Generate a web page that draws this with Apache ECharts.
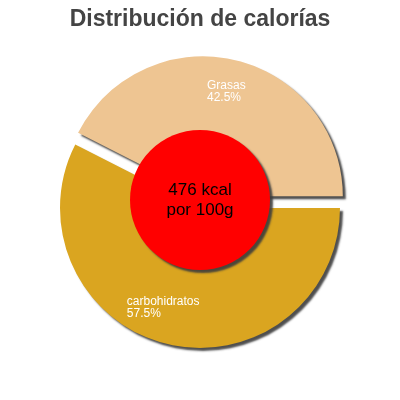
<!DOCTYPE html>
<html><head><meta charset="utf-8">
<script src="https://cdn.jsdelivr.net/npm/echarts@6/dist/echarts.min.js"></script>
<style>html,body{margin:0;background:#fff}#c{width:400px;height:400px}</style>
</head><body><div id="c"></div>
<script>
const categories = ['Grasas', 'carbohidratos'];
const values = [42.5, 57.5];
const colors = ['#EEC592', '#DAA520'];
const centerText = '476 kcal\npor 100g';
const title = 'Distribución de calorías';

const chart = echarts.init(document.getElementById('c'));
const widths = [42, 90];
const offsets = [[-1, 0], [-3, -5]];
chart.setOption({
  animation: false,
  title: { text: title, left: 'center', top: 3,
    textStyle: { fontFamily: 'Liberation Sans', fontSize: 23, fontWeight: 'bold', color: '#444' } },
  series: [{
    type: 'pie', center: [200, 208], radius: [0, 140], startAngle: 153, z: 1,
    selectedMode: 'single', selectedOffset: 12,
    itemStyle: { shadowColor: 'rgba(60,60,60,0.9)', shadowOffsetX: 3, shadowOffsetY: 3, shadowBlur: 2 },
    label: { show: false },
    data: categories.map((c, i) => ({ name: c, value: values[i], selected: i === 0, itemStyle: { color: colors[i] } }))
  }, {
    type: 'pie', center: [200, 208], radius: [70, 140], startAngle: 153, z: 2,
    selectedMode: 'single', selectedOffset: 12, silent: true,
    itemStyle: { color: 'transparent' },
    label: { position: 'inside', color: '#fff', fontFamily: 'Liberation Sans', fontSize: 12, lineHeight: 12,
      formatter: p => '{a|' + p.name + '}\n{a|' + p.value.toFixed(1) + '%}',
      rich: { a: { align: 'left', color: '#fff', fontFamily: 'Liberation Sans', fontSize: 12, lineHeight: 12 } } },
    data: categories.map((c, i) => ({ name: c, value: values[i], selected: i === 0, label: { offset: offsets[i], width: widths[i] } }))
  }, {
    type: 'pie', center: [200, 200], radius: [0, 70], silent: true, z: 5,
    itemStyle: { color: '#FF0000', shadowColor: 'rgba(60,60,60,0.9)', shadowOffsetX: 3, shadowOffsetY: 3, shadowBlur: 2 },
    label: { position: 'center', color: '#000', fontFamily: 'Liberation Sans', fontSize: 17, lineHeight: 20, formatter: centerText },
    data: [{ value: 1, name: 'kcal' }]
  }]
});
</script></body></html>
